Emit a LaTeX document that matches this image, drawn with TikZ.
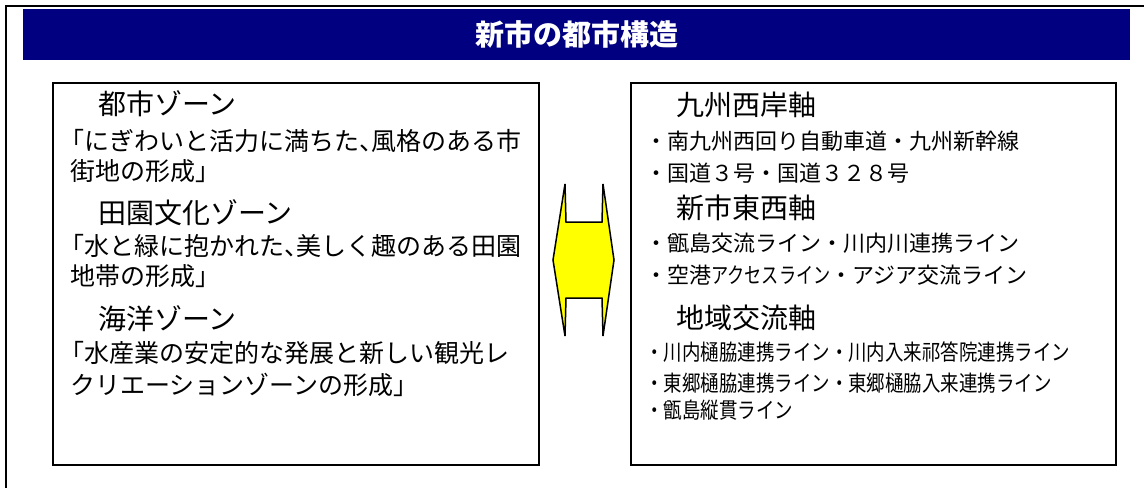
\documentclass[tikz,border=0pt]{standalone}
\usepackage{fontspec}
\newfontfamily\jp{Noto Sans CJK JP}
\definecolor{navybar}{RGB}{0,0,128}
\definecolor{arrowyellow}{RGB}{255,255,0}
\tikzset{
  panel/.style={draw=black, line width=1.6pt, inner sep=0pt, anchor=north west,
                minimum width=#1, minimum height=382pt},
  zone/.style={anchor=west, inner sep=0pt, font=\jp\fontsize{28}{28}\selectfont},
  desc/.style={anchor=west, inner sep=0pt, font=\jp\fontsize{25}{25}\selectfont},
  item/.style={anchor=west, inner sep=0pt, font=\jp\fontsize{22}{22}\selectfont},
}
\newcommand{\nrw}[1]{\scalebox{0.84}[1]{#1}}
\newcommand{\nrwb}[1]{\scalebox{0.78}[1]{#1}}
\newcommand{\hcomma}{\makebox[0.5em][l]{、}}
\begin{document}
\begin{tikzpicture}[x=1pt,y=-1pt]
\useasboundingbox (0,0) rectangle (1144,488);
% outer frame (cropped)
\draw[line width=1.8pt] (1144,6) -- (6,6) -- (6,488);
% title bar
\node[fill=navybar, anchor=north west, inner sep=0pt, minimum width=1107pt, minimum height=51pt,
      text=white, font=\jp\bfseries\fontsize{29}{29}\selectfont] (title) at (23,9) {新市の都市構造};
% panels
\node[panel=486pt] (left) at (52,82) {};
\node[panel=485pt] (right) at (630,82) {};
% double arrow
\draw[fill=arrowyellow, line width=1.5pt, line join=miter]
  (565,184) -- (566,222) -- (602,222) -- (603,184) -- (614,260) -- (603,336)
  -- (602,298) -- (566,298) -- (565,336) -- (553,260) -- cycle;
% left texts
\node[zone] (z1) at (98,104) {都市ゾーン};
\node[desc] (d1a) at (59,141) {「にぎわいと活力に満ちた\hcomma 風格のある市};
\node[desc] (d1b) at (70,171) {街地の形成」};
\node[zone] (z2) at (98,213) {田園文化ゾーン};
\node[desc] (d2a) at (59,246) {「水と緑に抱かれた\hcomma 美しく趣のある田園};
\node[desc] (d2b) at (70,276) {地帯の形成」};
\node[zone] (z3) at (98,319) {海洋ゾーン};
\node[desc] (d3a) at (59,353) {「水産業の安定的な発展と新しい観光レ};
\node[desc] (d3b) at (70,385) {クリエーションゾーンの形成」};
% right texts
\node[zone] (a1) at (676,105) {九州西岸軸};
\node[item] (a1a) at (645,141) {・南九州西回り自動車道・九州新幹線};
\node[item] (a1b) at (645,173) {・国道３号・国道３２８号};
\node[zone] (a2) at (676,208) {新市東西軸};
\node[item] (a2a) at (645,243) {・甑島交流ライン・川内川連携ライン};
\node[item] (a2b) at (645,275) {・空港\nrwb{アクセスライン}・アジア交流ライン};
\node[zone] (a3) at (676,318) {地域交流軸};
\node[item] (a3a) at (645,352) {\nrw{・川内樋脇連携ライン・川内入来祁答院連携ライン}};
\node[item] (a3b) at (645,383) {\nrw{・東郷樋脇連携ライン・東郷樋脇入来連携ライン}};
\node[item] (a3c) at (645,410) {\nrw{・甑島縦貫ライン}};
\end{tikzpicture}
\end{document}
